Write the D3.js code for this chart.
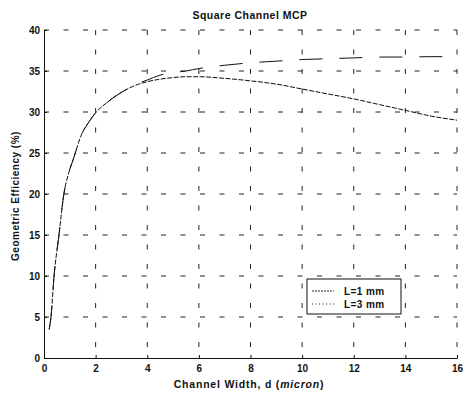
<!DOCTYPE html>
<html>
<head>
<meta charset="utf-8">
<script src="https://cdn.jsdelivr.net/npm/d3@7"></script>
<style>
  body { margin: 0; background: #fff; }
  text { font-family: "Liberation Sans", Arial, sans-serif; font-weight: bold; fill: #111; }
</style>
</head>
<body>
<div id="chart"></div>
<script>
// set width/height
const WIDTH = 465;
const HEIGHT = 393;
// plot box
const MARGIN = { TOP: 30, RIGHT: 8, BOTTOM: 35, LEFT: 44 };

// channel width d (micron)
const widths = [0.2, 0.27, 0.39, 0.58, 0.77, 0.96, 1.13, 1.46, 1.7, 2, 2.5, 3, 3.5, 4, 4.5, 5, 5.5, 6, 7, 8, 9, 10, 11, 12, 13, 14, 15, 16];
// geometric efficiency (%)
const eff1mm = [3.5, 5, 10, 15, 20, 22.6, 24.2, 27.3, 28.6, 29.9, 31.3, 32.4, 33.2, 33.7, 34.0, 34.2, 34.3, 34.3, 34.1, 33.8, 33.4, 32.8, 32.2, 31.6, 30.9, 30.2, 29.5, 29.0];
const eff3mm = [3.5, 5, 10, 15, 20, 22.6, 24.2, 27.3, 28.6, 29.9, 31.3, 32.4, 33.3, 33.9, 34.5, 34.8, 35.0, 35.3, 35.7, 36.0, 36.2, 36.4, 36.5, 36.6, 36.7, 36.7, 36.75, 36.75];

const xTicks = [0, 2, 4, 6, 8, 10, 12, 14, 16];
const yTicks = [0, 5, 10, 15, 20, 25, 30, 35, 40];
const seriesNames = ["L=1 mm", "L=3 mm"];

let xScale = d3.scaleLinear()
    .domain([0, 16])
    .range([MARGIN.LEFT, WIDTH - MARGIN.RIGHT]);

let yScale = d3.scaleLinear()
    .domain([0, 40])
    .range([HEIGHT - MARGIN.BOTTOM, MARGIN.TOP]);

let svg = d3.select("#chart")
    .append("svg")
    .attr("width", WIDTH)
    .attr("height", HEIGHT);

// grid
svg.append("g").selectAll("line")
    .data(xTicks.slice(1))
    .enter().append("line")
    .attr("x1", d => xScale(d)).attr("x2", d => xScale(d))
    .attr("y1", yScale(40)).attr("y2", yScale(0))
    .attr("stroke", "#222")
    .attr("stroke-dasharray", "5,14.5");

svg.append("g").selectAll("line")
    .data(yTicks.slice(1))
    .enter().append("line")
    .attr("x1", xScale(0)).attr("x2", xScale(16))
    .attr("y1", d => yScale(d)).attr("y2", d => yScale(d))
    .attr("stroke", "#222")
    .attr("stroke-dasharray", "5,14.5");

// axes
let xAxis = d3.axisBottom(xScale)
    .tickValues(xTicks)
    .tickSize(-3)
    .tickPadding(7)
    .tickSizeOuter(0);

let yAxis = d3.axisLeft(yScale)
    .tickValues(yTicks)
    .tickSize(-3)
    .tickPadding(4)
    .tickSizeOuter(0);

svg.append("g")
    .attr("transform", "translate(0," + yScale(0) + ")")
    .call(xAxis)
    .call(g => g.selectAll("text").attr("font-size", 10).attr("font-family", null).attr("fill", null));

svg.append("g")
    .attr("transform", "translate(" + xScale(0) + ",0)")
    .call(yAxis)
    .call(g => g.selectAll("text").attr("font-size", 10).attr("font-family", null).attr("fill", null));

svg.selectAll(".domain, .tick line").attr("stroke", "#111");

// curves
let line = d3.line()
    .x(d => xScale(d[0]))
    .y(d => yScale(d[1]))
    .curve(d3.curveMonotoneX);

svg.append("path")
    .datum(widths.map((w, i) => [w, eff3mm[i]]))
    .attr("fill", "none")
    .attr("stroke", "#111")
    .attr("stroke-width", 1)
    .attr("stroke-dasharray", "23,17")
    .attr("d", line);

svg.append("path")
    .datum(widths.map((w, i) => [w, eff1mm[i]]))
    .attr("fill", "none")
    .attr("stroke", "#111")
    .attr("stroke-width", 1)
    .attr("stroke-dasharray", "5,1.5")
    .attr("d", line);

// title and labels
svg.append("text")
    .attr("x", 250)
    .attr("y", 19)
    .attr("text-anchor", "middle")
    .attr("font-size", 10.5)
    .attr("letter-spacing", 0.5)
    .text("Square Channel MCP");

let xLabel = svg.append("text")
    .attr("x", 249)
    .attr("y", 388)
    .attr("text-anchor", "middle")
    .attr("font-size", 10.5)
    .attr("letter-spacing", 0.8);
xLabel.append("tspan").text("Channel Width, d (");
xLabel.append("tspan").attr("font-style", "italic").text("micron");
xLabel.append("tspan").text(")");

svg.append("text")
    .attr("transform", "translate(19,196) rotate(-90)")
    .attr("text-anchor", "middle")
    .attr("font-size", 10)
    .attr("letter-spacing", 0.5)
    .text("Geometric Efficiency (%)");

// legend
let legend = svg.append("g");
legend.append("rect")
    .attr("x", 307).attr("y", 279)
    .attr("width", 94).attr("height", 35)
    .attr("fill", "#fff")
    .attr("stroke", "#111");

const legendDash = ["2,1", "1,2.5"];
seriesNames.forEach((name, i) => {
    let y = 291 + i * 13;
    legend.append("line")
        .attr("x1", 312).attr("x2", 334)
        .attr("y1", y).attr("y2", y)
        .attr("stroke", "#222")
        .attr("stroke-dasharray", legendDash[i]);
    legend.append("text")
        .attr("x", 344)
        .attr("y", y + 4)
        .attr("font-size", 10)
        .attr("letter-spacing", 0.4)
        .text(name);
});
</script>
</body>
</html>
